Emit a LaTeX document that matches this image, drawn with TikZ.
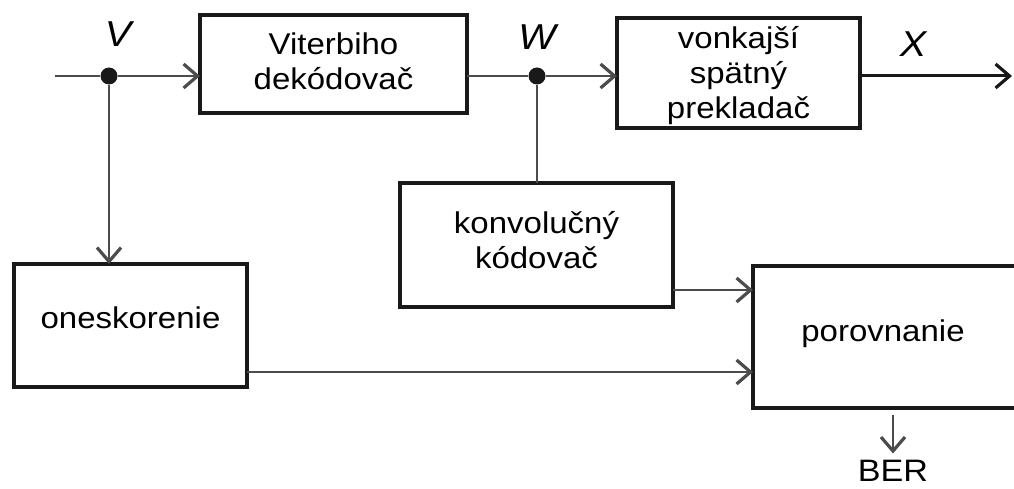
\documentclass[tikz,border=0pt]{standalone}
\usepackage{fontspec}
\setmainfont{Liberation Sans}[FakeStretch=1.1]
\usetikzlibrary{arrows.meta}
\begin{document}
\begin{tikzpicture}[x=1pt,y=-1pt,
  box/.style={draw=black!90, line width=3.5pt, inner sep=0pt, outer sep=0pt},
  txt/.style={font=\fontsize{30}{35}\selectfont, align=center, inner sep=0pt},
  lbl/.style={font=\fontsize{36}{40}\selectfont\itshape, inner sep=0pt, anchor=base},
  conn/.style={line width=1.3pt, draw=black!70},
  arr/.style={conn, -{Straight Barb[length=14pt,width=24pt,line width=3.2pt]}},
  dot/.style={circle, fill=black!90, minimum size=17pt, inner sep=0pt}]
\clip (0,0) rectangle (1014,489);
\fill[white] (0,0) rectangle (1014,489);
% boxes
\node[box, minimum width=267pt, minimum height=98pt] (vit) at (333.5,64) {};
\node[txt] (vitT) at ([yshift=2.5pt]vit.center) {Viterbiho\\dekódovač};
\node[box, minimum width=243pt, minimum height=110pt] (von) at (738.5,73) {};
\node[txt] (vonT) at ([yshift=-2.5pt]von.center) {vonkajší\\spätný\\prekladač};
\node[box, minimum width=273pt, minimum height=124pt] (konv) at (536.5,245) {};
\node[txt] (konvT) at ([yshift=4.5pt]konv.center) {konvolučný\\kódovač};
\node[box, minimum width=233pt, minimum height=123pt] (ones) at (130.5,325.5) {};
\node[txt] (onesT) at ([yshift=8pt]ones.center) {oneskorenie};
\node[box, minimum width=400pt, minimum height=142pt] (por) at (953,337) {};
\node[txt] (porT) at (883,334) {porovnanie};
\node[txt, font=\fontsize{31}{36}\selectfont, anchor=base] (ber) at (893,481) {BER};
% junctions and labels
\coordinate (in) at (55,76);
\coordinate (out) at (1012,76);
\node[dot] (dV) at (109,76) {};
\node[dot] (dW) at (537,76) {};
\node[lbl] (V) at (118,47) {V};
\node[lbl] (W) at (537,50) {W};
\node[lbl] (X) at (913,57) {X};
% connectors
\draw[conn] (in) -- (dV);
\draw[arr] (dV) -- (dV -| vit.west);
\draw[conn] (dV -| vit.east) -- (dW);
\draw[arr] (dW) -- (dW -| von.west);
\draw[arr, line width=3pt, draw=black!90] (dW -| von.east) -- (out);
\draw[conn] (dW) -- (dW |- konv.north);
\draw[arr] (dV) -- (dV |- ones.north);
\draw[arr] ([yshift=-45pt]konv.east) -- ([yshift=-45pt]konv.east -| por.west);
\draw[arr] ([yshift=-46.5pt]ones.east) -- ([yshift=-46.5pt]ones.east -| por.west);
\draw[arr] ([yshift=-7pt]por.south -| ber.north) -- ([yshift=6pt]ber.north);
\end{tikzpicture}
\end{document}
